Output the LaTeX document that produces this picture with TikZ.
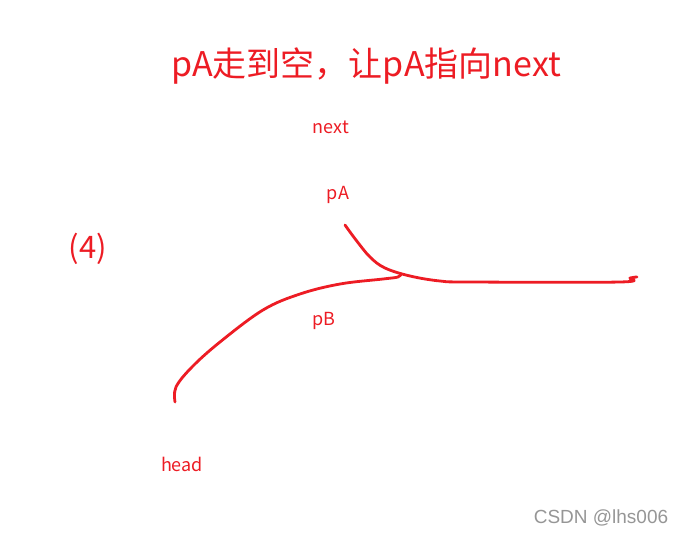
\documentclass[tikz,border=0pt]{standalone}
\usepackage{fontspec}
\setmainfont{Noto Sans CJK SC}
\newfontfamily\wmfont{Liberation Sans}
\definecolor{inkred}{RGB}{237,28,36}
\definecolor{wmgray}{RGB}{150,150,150}
\begin{document}
\begin{tikzpicture}[x=1pt,y=-1pt,
  lbl/.style={text=inkred,inner sep=0pt,anchor=center,font=\fontsize{18}{20}\selectfont},
  big/.style={text=inkred,inner sep=0pt,anchor=center,font=\fontsize{34}{38}\selectfont},
  stroke/.style={draw=inkred,line width=2.8pt,line cap=round,line join=round}]
\useasboundingbox[fill=white] (0,0) rectangle (683,535);
\node[big] (title) at (366,66) {pA走到空，让pA指向next};
\node[big,font=\fontsize{31}{34}\selectfont] (num) at (88,249) {(4)};
\node[lbl] (next) at (331,127) {next};
\node[lbl] (pa) at (338,195) {pA};
\node[lbl] (pb) at (324,321) {pB};
\node[lbl] (head) at (182,464) {head};
\node[text=wmgray,inner sep=0pt,font=\wmfont\fontsize{19}{21}\selectfont] (wm) at (601,518) {CSDN @lhs006};
% pA curve
\draw[stroke] plot[smooth,tension=0.6] coordinates {(345,225) (356,240) (370,257) (385,268) (410,276) (440,281) (470,282) (620,282) (630,278) (637,277)};
% pB curve
\draw[stroke] plot[smooth,tension=0.6] coordinates {(175,402) (176,387) (192,367) (220,342) (263,310) (300,294) (340,284) (383,279) (398,277) (401,274)};
\end{tikzpicture}
\end{document}
